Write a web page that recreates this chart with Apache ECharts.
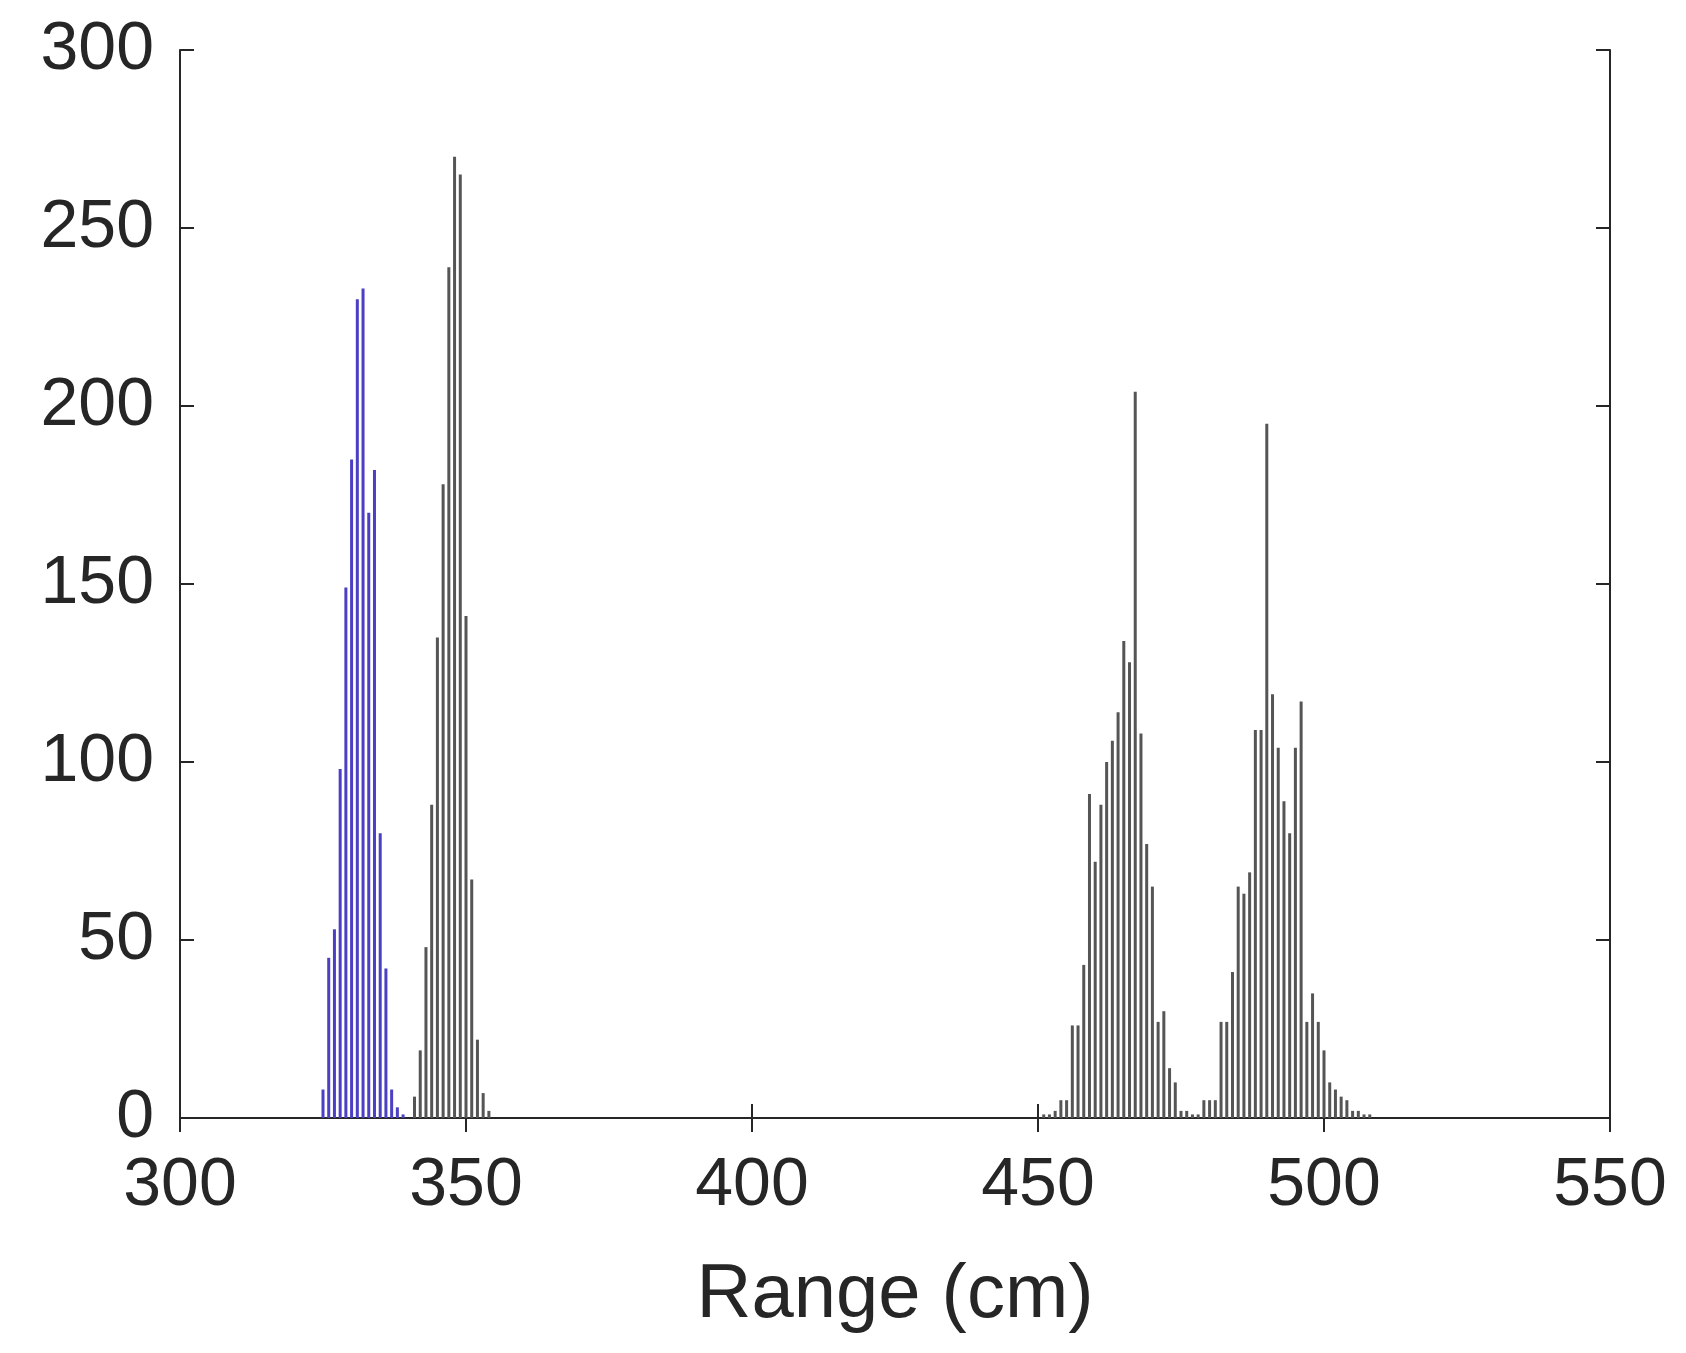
<!DOCTYPE html>
<html>
<head>
<meta charset="utf-8">
<script src="https://cdn.jsdelivr.net/npm/echarts@6/dist/echarts.min.js"></script>
<style>html,body{margin:0;padding:0;background:#fff}#chart{width:1686px;height:1353px}</style>
</head>
<body>
<div id="chart"></div>
<script>
// histogram counts, 1 cm bins
const blueStart = 325;
const blueCounts = [8, 45, 53, 98, 149, 185, 230, 233, 170, 182, 80, 42, 8, 3, 1];
const grayStart1 = 341;
const grayCounts1 = [6, 19, 48, 88, 135, 178, 239, 270, 265, 141, 67, 22, 7, 2];
const grayStart2 = 451;
const grayCounts2 = [1, 1, 2, 5, 5, 26, 26, 43, 91, 72, 88, 100, 106, 114, 134, 128, 204, 108, 77, 65,
  27, 30, 14, 10, 2, 2, 1, 1, 5, 5, 5, 27, 27, 41, 65, 63, 69, 109, 109, 195, 119, 104, 89, 80, 104,
  117, 27, 35, 27, 19, 10, 8, 6, 5, 2, 2, 1, 1];

const toPairs = (start, counts) => counts.map((c, i) => [start + i, c]);

const chart = echarts.init(document.getElementById('chart'));
const font = 'Liberation Sans, Arial, sans-serif';
const axisLine = { show: true, lineStyle: { color: '#262626', width: 2 } };
const tick = { show: true, inside: true, length: 14, lineStyle: { color: '#262626', width: 2 } };

chart.setOption({
  animation: false,
  grid: { left: 180, right: 76, top: 50, bottom: 235 },
  xAxis: [{
    type: 'value', min: 300, max: 550, interval: 50,
    name: 'Range (cm)', nameLocation: 'middle', nameGap: 140,
    nameTextStyle: { fontFamily: font, fontSize: 76, color: '#262626' },
    axisLine, axisTick: tick, splitLine: { show: false },
    axisLabel: { fontFamily: font, fontSize: 68, color: '#262626', margin: 34 },
  }, {
    type: 'value', min: 300, max: 550, interval: 50, position: 'top',
    axisLine, axisTick: tick, axisLabel: { show: false }, splitLine: { show: false },
  }],
  yAxis: [{
    type: 'value', min: 0, max: 300, interval: 50,
    axisLine, axisTick: tick, splitLine: { show: false },
    axisLabel: { fontFamily: font, fontSize: 68, color: '#262626', margin: 26 },
  }, {
    type: 'value', min: 0, max: 300, interval: 50, position: 'right',
    axisLine, axisTick: tick, axisLabel: { show: false }, splitLine: { show: false },
  }],
  series: [
    { type: 'bar', barWidth: 3, barGap: '-100%', itemStyle: { color: '#4b3fc4' }, data: toPairs(blueStart, blueCounts) },
    { type: 'bar', barWidth: 3, barGap: '-100%', itemStyle: { color: '#555' }, data: toPairs(grayStart1, grayCounts1) },
    { type: 'bar', barWidth: 3, barGap: '-100%', itemStyle: { color: '#555' }, data: toPairs(grayStart2, grayCounts2) },
  ],
});
</script>
</body>
</html>
